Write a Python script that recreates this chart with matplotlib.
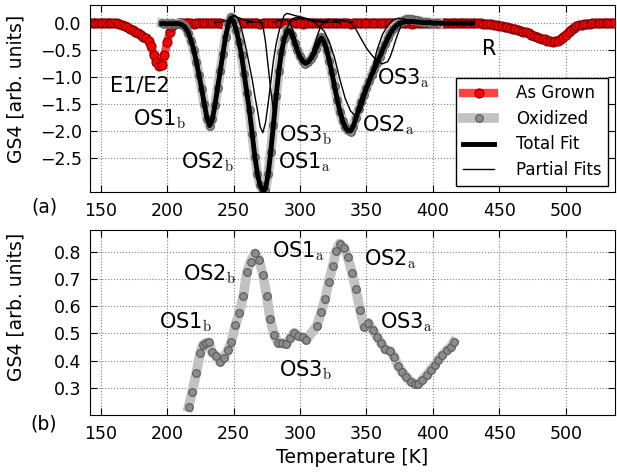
import numpy as np
import matplotlib
matplotlib.use("Agg")
import matplotlib.pyplot as plt

plt.rcParams['mathtext.fontset'] = 'cm'

# ---- top panel data ----
# as grown, temperature sweep 142..536 K in 2 K steps
t_grown = np.arange(142, 537, 2)
gs4_grown = [
    0.0, -0.01, 0.0, -0.01, -0.01, 0.0, -0.01, 0.0, -0.01, -0.01, -0.01,
    -0.02, -0.04, -0.06, -0.08, -0.11, -0.14, -0.17, -0.20, -0.23, -0.26, -0.28,
    -0.33, -0.44, -0.60, -0.72, -0.80, -0.78, -0.60, -0.36, -0.17, -0.07, -0.02,
    -0.01, 0.0, -0.01, -0.01, 0.0, -0.01, -0.02, -0.01, 0.0, -0.01, -0.01, 0.0, -0.01, -0.01,
    0.0, -0.01, -0.01, -0.02, -0.01, 0.0, -0.01, -0.01, 0.0, -0.01, -0.01, -0.01, 0.0, -0.01,
    -0.01, 0.0, -0.01, -0.02, -0.01, -0.01, 0.0, -0.01, -0.01, 0.0, -0.01, -0.01, -0.01, 0.0,
    -0.01, -0.01, 0.0, -0.01, -0.01, -0.02, -0.01, 0.0, -0.01, -0.01, 0.0, -0.01, -0.01, -0.01,
    0.0, -0.01, -0.01, 0.0, -0.01, -0.01, -0.01, 0.0, -0.01, -0.02, -0.01, 0.0, -0.01, -0.01,
    -0.01, 0.0, -0.01, -0.01, 0.0, -0.01, -0.01, -0.01, 0.0, -0.01, -0.01, 0.0, -0.01, -0.01,
    -0.01, 0.0, -0.01, -0.01, -0.02, -0.01, 0.0, -0.01, -0.01, 0.0, -0.01, -0.01, -0.01, 0.0,
    -0.01, -0.01, 0.0, -0.01, -0.01, -0.01, 0.0, -0.01, -0.01, 0.0, -0.01, -0.01, -0.01, -0.01,
    -0.01, -0.01, -0.01, -0.02, -0.02, -0.03, -0.03, -0.04, -0.05, -0.06, -0.07, -0.08, -0.09,
    -0.10, -0.11, -0.12, -0.14, -0.15, -0.17, -0.18, -0.20, -0.22, -0.24, -0.26, -0.28, -0.30,
    -0.31, -0.33, -0.34, -0.35, -0.34, -0.33, -0.30, -0.26, -0.22, -0.18, -0.13, -0.10, -0.07,
    -0.05, -0.04, -0.03, -0.02, -0.02, -0.01, -0.01, -0.01, -0.01, -0.01, 0.0, -0.01, 0.0, -0.01,
]

# oxidized data, 196..404 K in 2 K steps
t_ox = np.arange(196, 405, 2)
gs4_ox = [
    -0.01, -0.02, -0.01, -0.02, -0.01, -0.02, -0.02, -0.03,
    -0.05, -0.10, -0.20, -0.33, -0.50, -0.72, -0.97, -1.22, -1.50, -1.77,
    -1.91, -1.78, -1.52, -1.20, -0.90, -0.58, -0.26, -0.02, 0.10, 0.04,
    -0.14, -0.35, -0.60, -0.95, -1.30, -1.62, -2.05, -2.48, -2.80, -3.00,
    -3.10, -3.08, -2.80, -2.38, -1.88, -1.35, -0.90, -0.55, -0.30, -0.14,
    -0.15, -0.23, -0.38, -0.50, -0.62, -0.71, -0.76, -0.73, -0.67, -0.60,
    -0.48, -0.35, -0.27, -0.35, -0.50, -0.70, -0.92, -1.17, -1.42, -1.65,
    -1.81, -1.92, -1.99, -2.01, -1.92, -1.76, -1.60, -1.46, -1.33, -1.20,
    -1.08, -0.96, -0.85, -0.74, -0.63, -0.51, -0.40, -0.29, -0.19, -0.11,
    -0.06, -0.02, 0.02, 0.04, 0.06, 0.07, 0.06, 0.05, 0.04, 0.03,
    0.02, 0.01, 0.01, 0.0, 0.0, -0.01, -0.01,
]

# total fit, 196..430 K in 2 K steps
t_fit = np.arange(196, 431, 2)
gs4_fit = [
    -0.02, -0.02, -0.02, -0.02, -0.02, -0.02, -0.02, -0.03,
    -0.05, -0.10, -0.19, -0.33, -0.50, -0.72, -0.97, -1.23, -1.50, -1.76,
    -1.90, -1.79, -1.52, -1.20, -0.89, -0.57, -0.26, -0.03, 0.08, 0.03,
    -0.14, -0.35, -0.60, -0.95, -1.30, -1.63, -2.05, -2.47, -2.80, -3.01,
    -3.10, -3.07, -2.80, -2.38, -1.88, -1.36, -0.90, -0.55, -0.31, -0.16,
    -0.15, -0.23, -0.37, -0.51, -0.63, -0.71, -0.75, -0.73, -0.67, -0.59,
    -0.48, -0.36, -0.28, -0.35, -0.50, -0.70, -0.93, -1.18, -1.42, -1.64,
    -1.81, -1.93, -1.99, -2.00, -1.92, -1.77, -1.61, -1.46, -1.33, -1.20,
    -1.08, -0.96, -0.85, -0.74, -0.63, -0.51, -0.40, -0.29, -0.20, -0.12,
    -0.07, -0.03, 0.0, 0.01, 0.02, 0.02, 0.02, 0.02, 0.01, 0.01,
    0.0, 0.0, 0.0, 0.0, -0.01, -0.01, -0.01, -0.01, -0.01, -0.01,
    -0.01, -0.01, -0.01, -0.01, -0.01, -0.01, -0.01, -0.01, -0.01, -0.01,
]

# partial fits
t_os1b = [196, 200, 204, 208, 210, 212, 214, 216, 218, 220, 222, 224, 226, 228, 230,
          232, 234, 236, 238, 240, 242, 244, 246, 248, 250, 254, 258, 264, 272]
gs4_os1b = [-0.02, -0.02, -0.02, -0.02, -0.03, -0.05, -0.10, -0.19, -0.33, -0.50, -0.72,
            -0.97, -1.23, -1.50, -1.76, -1.90, -1.79, -1.52, -1.18, -0.85, -0.50, -0.16,
            0.05, 0.12, 0.12, 0.09, 0.05, 0.02, 0.0]

t_os2b = [236, 240, 244, 246, 248, 250, 252, 254, 256, 258, 260, 262, 264, 266, 268, 270,
          272, 274, 276, 278, 280, 282, 284, 286, 288, 290, 292, 296, 300, 306, 312, 320, 330]
gs4_os2b = [0.0, 0.01, 0.03, 0.06, 0.10, 0.14, 0.12, 0.04, -0.12, -0.32, -0.55, -0.80,
            -1.05, -1.35, -1.62, -1.92, -2.03, -1.85, -1.50, -1.10, -0.70, -0.40, -0.18,
            0.0, 0.13, 0.17, 0.16, 0.13, 0.11, 0.07, 0.04, 0.02, 0.0]

t_os1a = [260, 264, 268, 270, 272, 274, 276, 278, 280, 282, 284, 286, 288, 290, 292,
          294, 298, 304, 312, 320]
gs4_os1a = [0.0, 0.01, 0.02, 0.02, -0.05, -0.35, -0.80, -1.25, -1.62, -1.45, -0.95,
            -0.56, -0.30, -0.12, 0.0, 0.07, 0.10, 0.06, 0.02, 0.0]

t_os3b = [280, 284, 288, 290, 292, 294, 296, 298, 300, 302, 304, 306, 308, 310, 312,
          314, 316, 318, 322, 330, 340]
gs4_os3b = [0.0, 0.04, 0.06, 0.05, 0.0, -0.10, -0.25, -0.42, -0.58, -0.70, -0.75, -0.72,
            -0.63, -0.48, -0.32, -0.17, -0.05, 0.02, 0.06, 0.04, 0.01]

t_os2a = [296, 300, 306, 310, 314, 318, 322, 326, 330, 334, 338, 342, 346, 350, 354,
          358, 362, 366, 370, 374, 380, 390, 400]
gs4_os2a = [0.05, 0.08, 0.06, 0.02, -0.06, -0.15, -0.35, -0.65, -1.05, -1.40, -1.63,
            -1.73, -1.62, -1.30, -0.90, -0.50, -0.22, -0.05, 0.05, 0.08, 0.06, 0.02, 0.0]

t_os3a = [326, 330, 334, 338, 342, 346, 350, 354, 358, 362, 366, 368, 370, 372, 374,
          376, 378, 382, 390, 400]
gs4_os3a = [0.03, 0.05, 0.03, 0.0, -0.12, -0.30, -0.47, -0.60, -0.71, -0.76, -0.72,
            -0.62, -0.48, -0.32, -0.18, -0.06, 0.02, 0.05, 0.02, 0.0]

# ---- bottom panel data ----
t_b = [216.1, 218.8, 222.0, 224.8, 227.0, 229.5, 231.3, 233.7, 236.9, 239.6, 242.6,
       245.8, 248.3, 251.3, 254.4, 257.3, 260.1, 262.8, 265.9, 269.1, 272.1, 274.9,
       277.6, 280.6, 283.4, 286.7, 289.8, 292.8, 295.6, 298.7, 301.9, 304.5, 312.6,
       315.9, 318.8, 321.6, 324.6, 327.1, 329.8, 333.2, 336.0, 339.2, 341.9, 345.2,
       348.2, 351.2, 354.7, 358.2, 361.2, 364.0, 367.7, 370.7, 373.9, 376.9, 380.0,
       383.3, 386.3, 389.0, 392.0, 395.3, 398.3, 401.3, 404.0, 407.0, 410.8, 413.3, 415.5]
gs4_b = [0.229, 0.284, 0.355, 0.427, 0.459, 0.466, 0.467, 0.430, 0.417, 0.396, 0.411,
         0.439, 0.468, 0.529, 0.576, 0.636, 0.726, 0.763, 0.794, 0.770, 0.716, 0.639,
         0.552, 0.493, 0.466, 0.463, 0.460, 0.484, 0.503, 0.492, 0.487, 0.476, 0.527,
         0.577, 0.626, 0.688, 0.748, 0.803, 0.830, 0.815, 0.779, 0.722, 0.664, 0.585,
         0.524, 0.540, 0.512, 0.487, 0.463, 0.441, 0.435, 0.414, 0.380, 0.357, 0.341,
         0.323, 0.315, 0.313, 0.329, 0.347, 0.366, 0.384, 0.402, 0.420, 0.439, 0.450, 0.467]

top_labels = [("E1/E2", 156.8, -1.27), (r"OS1$_{\rm b}$", 174.3, -1.89),
              (r"OS2$_{\rm b}$", 210.6, -2.69), (r"OS3$_{\rm b}$", 284.4, -2.20),
              (r"OS1$_{\rm a}$", 283.1, -2.69), (r"OS2$_{\rm a}$", 346.9, -2.01),
              (r"OS3$_{\rm a}$", 358.2, -1.15), ("R", 437.0, -0.60)]
bot_labels = [(r"OS1$_{\rm b}$", 193.8, 0.518), (r"OS2$_{\rm b}$", 212.3, 0.694),
              (r"OS1$_{\rm a}$", 278.6, 0.779), (r"OS3$_{\rm b}$", 284.4, 0.341),
              (r"OS2$_{\rm a}$", 348.2, 0.749), (r"OS3$_{\rm a}$", 360.2, 0.518)]

fig = plt.figure(figsize=(6.17, 4.75), dpi=100)
ax1 = fig.add_axes([0.1459, 0.5952, 0.8509, 0.3937])
ax2 = fig.add_axes([0.1459, 0.1263, 0.8509, 0.3895])

red_kw = dict(color=(1, 0.25, 0.25), lw=6, marker='o', ms=6.5,
              mfc='red', mec=(0.5, 0, 0), mew=0.8)
gray_kw = dict(color='0.76', lw=7, marker='o', ms=5.5,
               mfc='0.55', mec='0.35', mew=0.8)

ax1.plot(t_grown, gs4_grown, label="As Grown", **red_kw)
ax1.plot(t_ox, gs4_ox, label="Oxidized", **gray_kw)
ax1.plot(t_fit, gs4_fit, color='black', lw=3.5, label="Total Fit")
first = True
for tt, vv in [(t_os1b, gs4_os1b), (t_os2b, gs4_os2b), (t_os1a, gs4_os1a),
               (t_os3b, gs4_os3b), (t_os2a, gs4_os2a), (t_os3a, gs4_os3a)]:
    ax1.plot(tt, vv, color='black', lw=1, label="Partial Fits" if first else None)
    first = False

ax2.plot(t_b, gs4_b, **gray_kw)

for s, x, y in top_labels:
    ax1.text(x, y, s, fontsize=15, ha='left', va='baseline')
for s, x, y in bot_labels:
    ax2.text(x, y, s, fontsize=15, ha='left', va='baseline')

for ax, ly in ((ax1, 0.552), (ax2, 0.585)):
    ax.set_xlim(142, 537)
    ax.set_xticks([150, 200, 250, 300, 350, 400, 450, 500])
    ax.grid(True, ls=':', color='0.5', lw=0.8)
    ax.tick_params(direction='in', top=True, right=True, length=5, labelsize=12.5)
    ax.tick_params(axis='y', pad=6)
    ax.tick_params(axis='x', pad=7)
    ax.set_ylabel("GS4 [arb. units]", fontsize=13.5)
    ax.yaxis.set_label_coords(-0.122, ly)

ax1.set_ylim(-3.13, 0.32)
ax1.set_yticks([0.0, -0.5, -1.0, -1.5, -2.0, -2.5])
ax2.set_ylim(0.2, 0.88)
ax2.set_yticks([0.3, 0.4, 0.5, 0.6, 0.7, 0.8])
ax2.set_xlabel("Temperature [K]", fontsize=13.5)

leg = ax1.legend(loc='lower right', fontsize=12, fancybox=False, framealpha=1,
                 edgecolor='black', borderaxespad=0.4, handlelength=1.9,
                 handletextpad=1.3, labelspacing=0.45)
leg.get_frame().set_linewidth(1.0)

fig.text(0.0713, 0.564, "(a)", fontsize=13.5, ha='center', va='center')
fig.text(0.0713, 0.107, "(b)", fontsize=13.5, ha='center', va='center')

fig.savefig("out.png", dpi=100)
